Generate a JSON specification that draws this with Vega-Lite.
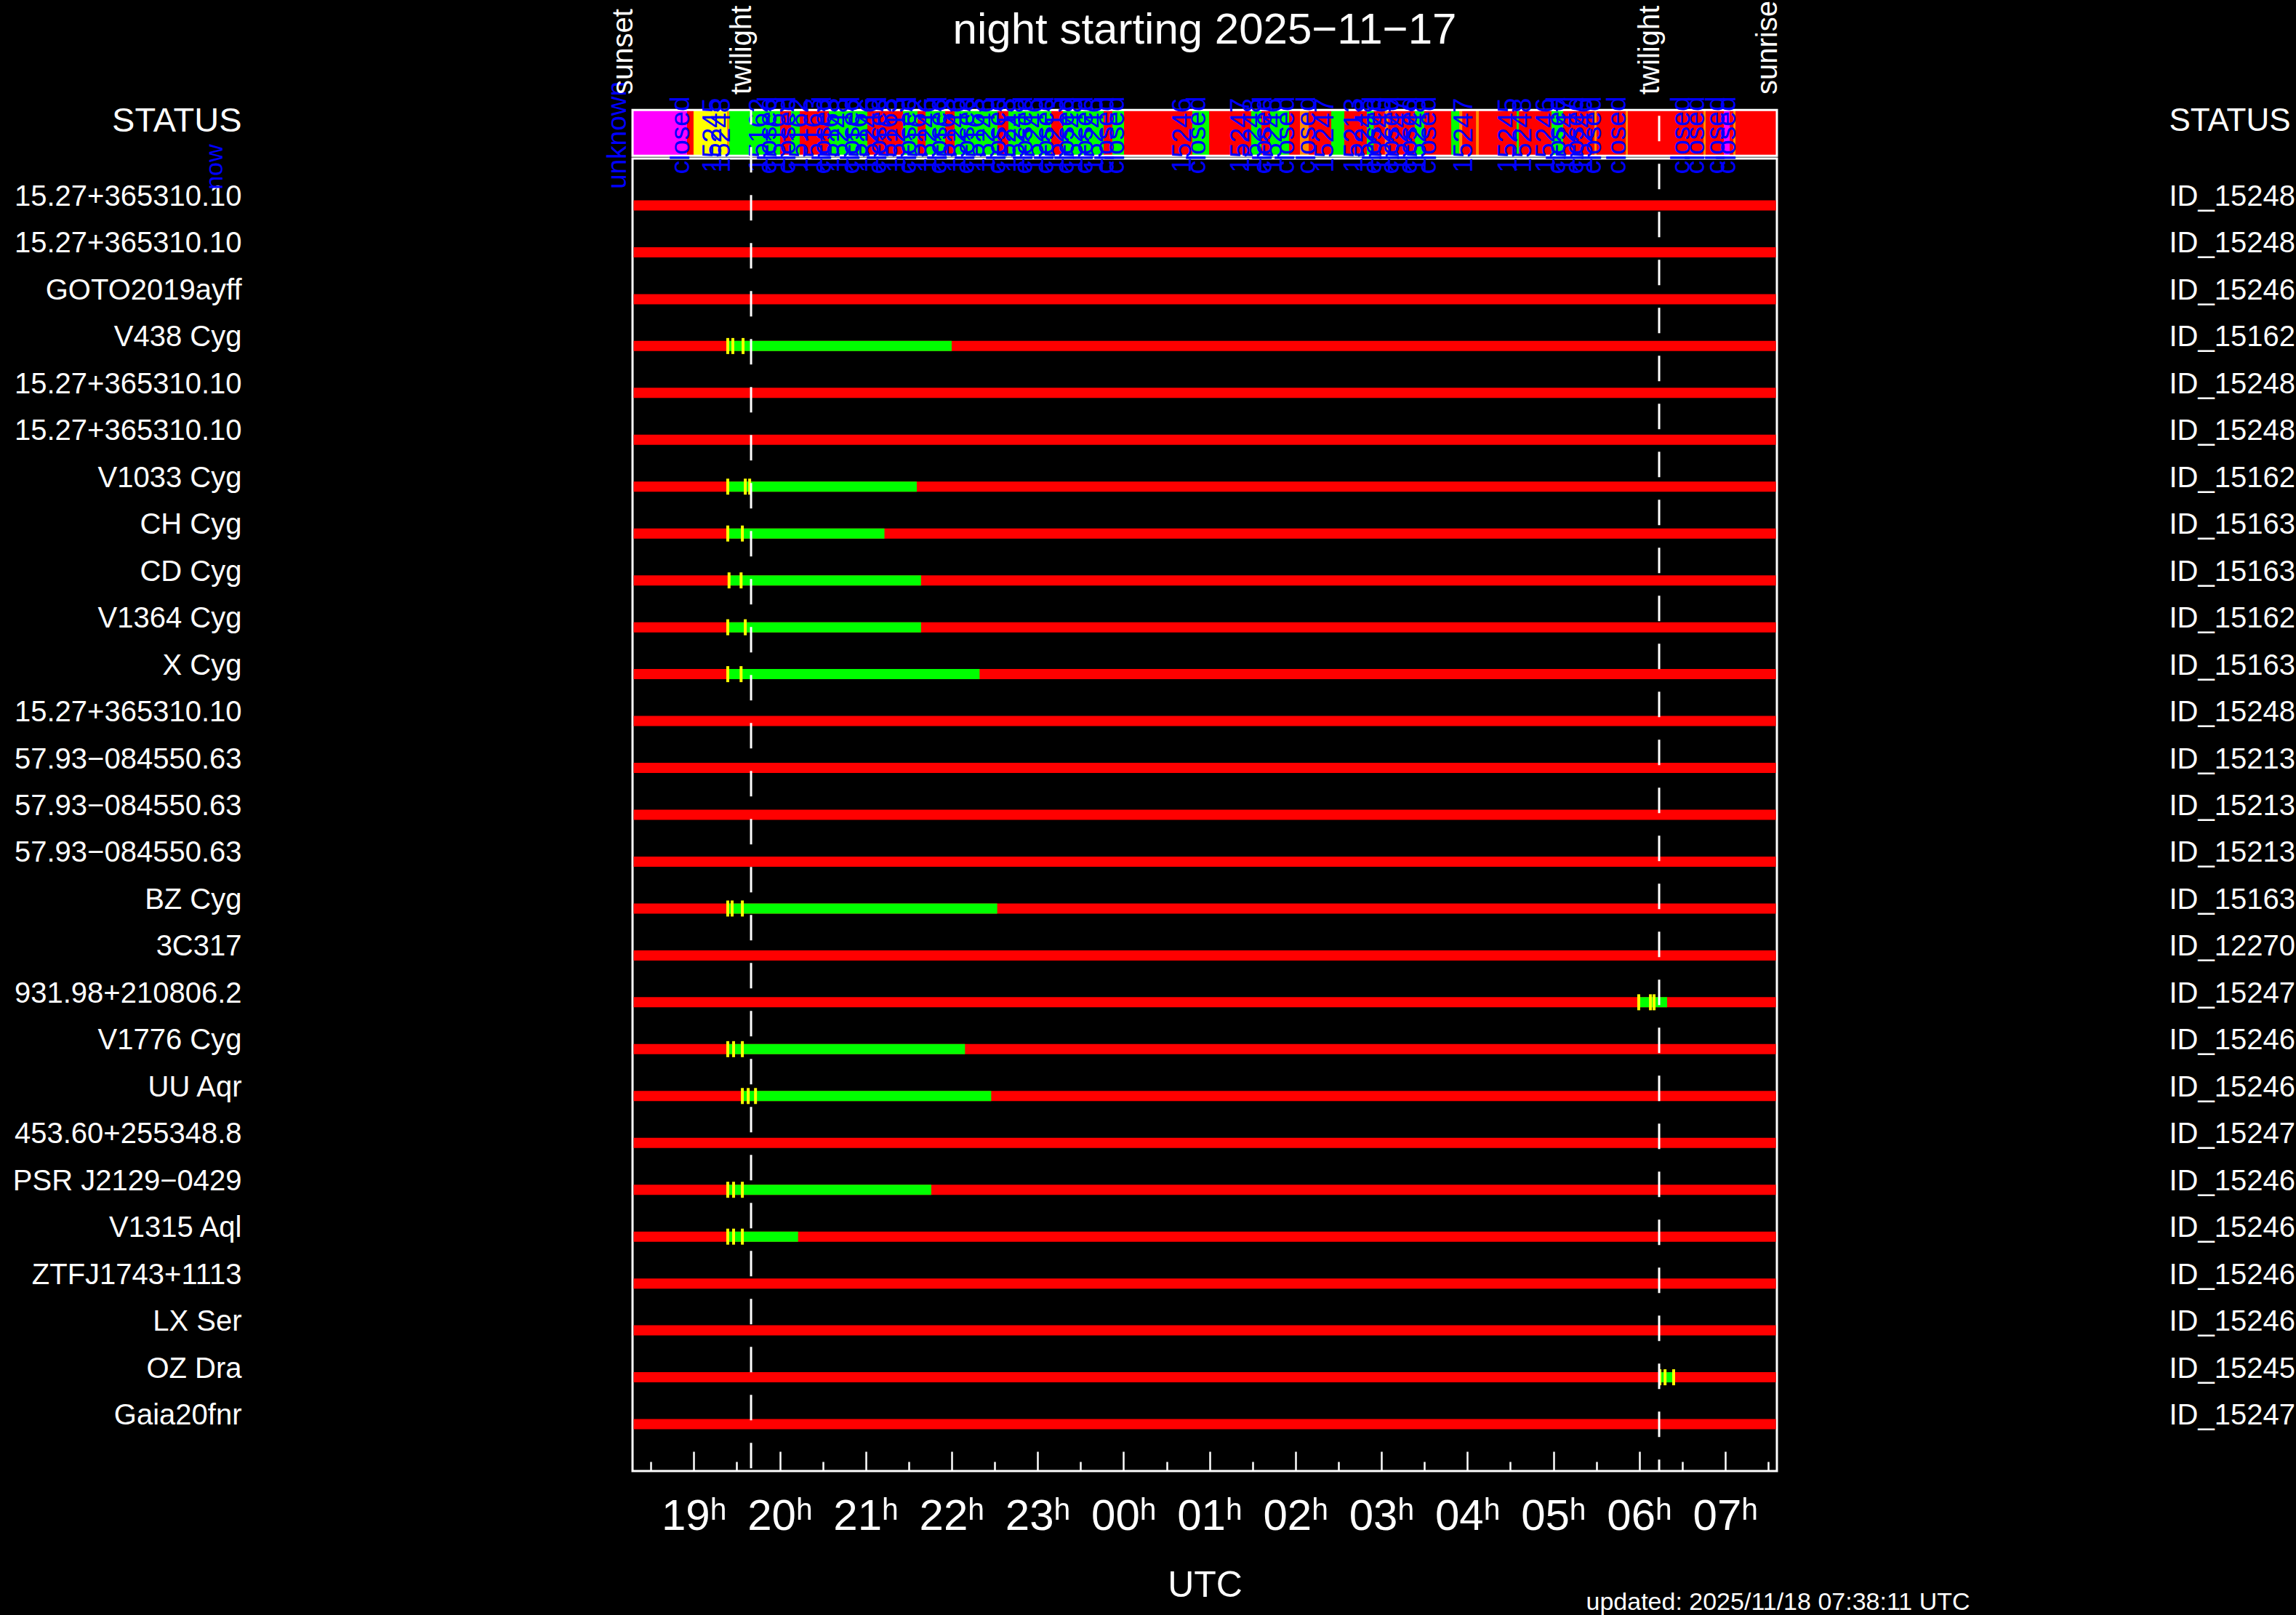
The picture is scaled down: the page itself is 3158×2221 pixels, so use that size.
{
  "$schema": "https://vega.github.io/schema/vega-lite/v6.json",
  "width": 1574,
  "height": 1805,
  "autosize": {"type": "none"},
  "padding": {"left": 870, "right": 714, "top": 218, "bottom": 198},
  "background": "black",
  "title": {"text": "night starting 2025−11−17", "color": "white", "font": "Liberation Sans", "fontSize": 60, "fontWeight": "normal", "anchor": "middle", "frame": "group", "offset": -72},
  "config": {
    "view": {"stroke": "white", "strokeWidth": 3},
    "axis": {"grid": false, "domainColor": "white", "tickColor": "white", "labelColor": "white", "titleColor": "white", "labelFont": "Liberation Sans", "titleFont": "Liberation Sans", "titleFontWeight": "normal"}
  },
  "datasets": {
    "targets": [
      {"pos": 1, "slot": "01|15.27+365310.10|ID_15248"},
      {"pos": 2, "slot": "02|15.27+365310.10|ID_15248"},
      {"pos": 3, "slot": "03|GOTO2019ayff|ID_15246"},
      {"pos": 4, "slot": "04|V438 Cyg|ID_15162"},
      {"pos": 5, "slot": "05|15.27+365310.10|ID_15248"},
      {"pos": 6, "slot": "06|15.27+365310.10|ID_15248"},
      {"pos": 7, "slot": "07|V1033 Cyg|ID_15162"},
      {"pos": 8, "slot": "08|CH Cyg|ID_15163"},
      {"pos": 9, "slot": "09|CD Cyg|ID_15163"},
      {"pos": 10, "slot": "10|V1364 Cyg|ID_15162"},
      {"pos": 11, "slot": "11|X Cyg|ID_15163"},
      {"pos": 12, "slot": "12|15.27+365310.10|ID_15248"},
      {"pos": 13, "slot": "13|57.93−084550.63|ID_15213"},
      {"pos": 14, "slot": "14|57.93−084550.63|ID_15213"},
      {"pos": 15, "slot": "15|57.93−084550.63|ID_15213"},
      {"pos": 16, "slot": "16|BZ Cyg|ID_15163"},
      {"pos": 17, "slot": "17|3C317|ID_12270"},
      {"pos": 18, "slot": "18|931.98+210806.2|ID_15247"},
      {"pos": 19, "slot": "19|V1776 Cyg|ID_15246"},
      {"pos": 20, "slot": "20|UU Aqr|ID_15246"},
      {"pos": 21, "slot": "21|453.60+255348.8|ID_15247"},
      {"pos": 22, "slot": "22|PSR J2129−0429|ID_15246"},
      {"pos": 23, "slot": "23|V1315 Aql|ID_15246"},
      {"pos": 24, "slot": "24|ZTFJ1743+1113|ID_15246"},
      {"pos": 25, "slot": "25|LX Ser|ID_15246"},
      {"pos": 26, "slot": "26|OZ Dra|ID_15245"},
      {"pos": 27, "slot": "27|Gaia20fnr|ID_15247"}
    ],
    "segments": [
      {"pos": 1, "from": 18.3, "to": 31.59, "state": "unobservable"},
      {"pos": 2, "from": 18.3, "to": 31.59, "state": "unobservable"},
      {"pos": 3, "from": 18.3, "to": 31.59, "state": "unobservable"},
      {"pos": 4, "from": 18.3, "to": 31.59, "state": "unobservable"},
      {"pos": 5, "from": 18.3, "to": 31.59, "state": "unobservable"},
      {"pos": 6, "from": 18.3, "to": 31.59, "state": "unobservable"},
      {"pos": 7, "from": 18.3, "to": 31.59, "state": "unobservable"},
      {"pos": 8, "from": 18.3, "to": 31.59, "state": "unobservable"},
      {"pos": 9, "from": 18.3, "to": 31.59, "state": "unobservable"},
      {"pos": 10, "from": 18.3, "to": 31.59, "state": "unobservable"},
      {"pos": 11, "from": 18.3, "to": 31.59, "state": "unobservable"},
      {"pos": 12, "from": 18.3, "to": 31.59, "state": "unobservable"},
      {"pos": 13, "from": 18.3, "to": 31.59, "state": "unobservable"},
      {"pos": 14, "from": 18.3, "to": 31.59, "state": "unobservable"},
      {"pos": 15, "from": 18.3, "to": 31.59, "state": "unobservable"},
      {"pos": 16, "from": 18.3, "to": 31.59, "state": "unobservable"},
      {"pos": 17, "from": 18.3, "to": 31.59, "state": "unobservable"},
      {"pos": 18, "from": 18.3, "to": 31.59, "state": "unobservable"},
      {"pos": 19, "from": 18.3, "to": 31.59, "state": "unobservable"},
      {"pos": 20, "from": 18.3, "to": 31.59, "state": "unobservable"},
      {"pos": 21, "from": 18.3, "to": 31.59, "state": "unobservable"},
      {"pos": 22, "from": 18.3, "to": 31.59, "state": "unobservable"},
      {"pos": 23, "from": 18.3, "to": 31.59, "state": "unobservable"},
      {"pos": 24, "from": 18.3, "to": 31.59, "state": "unobservable"},
      {"pos": 25, "from": 18.3, "to": 31.59, "state": "unobservable"},
      {"pos": 26, "from": 18.3, "to": 31.59, "state": "unobservable"},
      {"pos": 27, "from": 18.3, "to": 31.59, "state": "unobservable"},
      {"pos": 4, "from": 19.4, "to": 22.0, "state": "observable"},
      {"pos": 7, "from": 19.4, "to": 21.594, "state": "observable"},
      {"pos": 8, "from": 19.4, "to": 21.218, "state": "observable"},
      {"pos": 9, "from": 19.41, "to": 21.644, "state": "observable"},
      {"pos": 10, "from": 19.4, "to": 21.644, "state": "observable"},
      {"pos": 11, "from": 19.4, "to": 22.325, "state": "observable"},
      {"pos": 16, "from": 19.4, "to": 22.53, "state": "observable"},
      {"pos": 18, "from": 29.994, "to": 30.324, "state": "observable"},
      {"pos": 19, "from": 19.4, "to": 22.155, "state": "observable"},
      {"pos": 20, "from": 19.565, "to": 22.46, "state": "observable"},
      {"pos": 22, "from": 19.4, "to": 21.763, "state": "observable"},
      {"pos": 23, "from": 19.4, "to": 20.213, "state": "observable"},
      {"pos": 26, "from": 30.24, "to": 30.4, "state": "observable"}
    ],
    "ticks": [
      {"pos": 4, "t": 19.395}, {"pos": 4, "t": 19.454}, {"pos": 4, "t": 19.573},
      {"pos": 7, "t": 19.395}, {"pos": 7, "t": 19.599}, {"pos": 7, "t": 19.65},
      {"pos": 8, "t": 19.395}, {"pos": 8, "t": 19.565},
      {"pos": 9, "t": 19.41}, {"pos": 9, "t": 19.55},
      {"pos": 10, "t": 19.395}, {"pos": 10, "t": 19.599},
      {"pos": 11, "t": 19.395}, {"pos": 11, "t": 19.55},
      {"pos": 16, "t": 19.395}, {"pos": 16, "t": 19.446}, {"pos": 16, "t": 19.565},
      {"pos": 18, "t": 29.994}, {"pos": 18, "t": 30.13}, {"pos": 18, "t": 30.172},
      {"pos": 19, "t": 19.395}, {"pos": 19, "t": 19.463}, {"pos": 19, "t": 19.565},
      {"pos": 20, "t": 19.565}, {"pos": 20, "t": 19.633}, {"pos": 20, "t": 19.718},
      {"pos": 22, "t": 19.395}, {"pos": 22, "t": 19.463}, {"pos": 22, "t": 19.565},
      {"pos": 23, "t": 19.395}, {"pos": 23, "t": 19.463}, {"pos": 23, "t": 19.565},
      {"pos": 26, "t": 30.24}, {"pos": 26, "t": 30.3}, {"pos": 26, "t": 30.4}
    ],
    "status": [
      {"from": 18.287, "to": 31.601, "status": "closed"},
      {"from": 18.287, "to": 18.921, "status": "unknown"},
      {"from": 18.997, "to": 19.387, "status": "waiting"},
      {"from": 19.387, "to": 19.412, "status": "interrupted"},
      {"from": 19.412, "to": 20.004, "status": "open"},
      {"from": 20.131, "to": 20.232, "status": "open"},
      {"from": 20.571, "to": 21.019, "status": "open"},
      {"from": 21.434, "to": 21.603, "status": "open"},
      {"from": 21.696, "to": 21.924, "status": "open"},
      {"from": 22.034, "to": 22.533, "status": "open"},
      {"from": 22.66, "to": 23.159, "status": "open"},
      {"from": 23.295, "to": 23.768, "status": "open"},
      {"from": 23.87, "to": 24.005, "status": "open"},
      {"from": 24.8, "to": 24.995, "status": "open"},
      {"from": 25.485, "to": 25.604, "status": "open"},
      {"from": 25.705, "to": 25.925, "status": "open"},
      {"from": 26.052, "to": 26.154, "status": "interrupted"},
      {"from": 26.416, "to": 26.568, "status": "open"},
      {"from": 26.83, "to": 26.91, "status": "open"},
      {"from": 27.04, "to": 27.08, "status": "interrupted"},
      {"from": 27.388, "to": 27.498, "status": "open"},
      {"from": 27.812, "to": 27.905, "status": "open"},
      {"from": 27.905, "to": 27.94, "status": "interrupted"},
      {"from": 28.1, "to": 28.133, "status": "interrupted"},
      {"from": 28.573, "to": 28.598, "status": "open"},
      {"from": 28.979, "to": 29.114, "status": "open"},
      {"from": 29.478, "to": 29.503, "status": "interrupted"},
      {"from": 29.842, "to": 29.867, "status": "interrupted"},
      {"from": 30.747, "to": 30.772, "status": "interrupted"},
      {"from": 30.984, "to": 31.052, "status": "unknown"},
      {"from": 31.094, "to": 31.119, "status": "interrupted"}
    ],
    "notes": [
      {"t": 18.117, "label": "unknown"}, {"t": 18.85, "label": "closed"}, {"t": 19.225, "label": "15245"}, {"t": 19.327, "label": "15248"},
      {"t": 19.77, "label": "15162"}, {"t": 19.87, "label": "closed"}, {"t": 19.97, "label": "15163"}, {"t": 20.09, "label": "closed"},
      {"t": 20.23, "label": "15162"}, {"t": 20.4, "label": "15163"}, {"t": 20.5, "label": "closed"}, {"t": 20.6, "label": "15163"},
      {"t": 20.71, "label": "15248"}, {"t": 20.83, "label": "closed"}, {"t": 20.93, "label": "15162"}, {"t": 21.05, "label": "15246"},
      {"t": 21.15, "label": "closed"}, {"t": 21.27, "label": "15163"}, {"t": 21.37, "label": "15213"}, {"t": 21.49, "label": "closed"},
      {"t": 21.61, "label": "15162"}, {"t": 21.73, "label": "15246"}, {"t": 21.85, "label": "closed"}, {"t": 21.95, "label": "15163"},
      {"t": 22.07, "label": "15246"}, {"t": 22.17, "label": "closed"}, {"t": 22.29, "label": "15163"}, {"t": 22.41, "label": "15246"},
      {"t": 22.53, "label": "closed"}, {"t": 22.65, "label": "15213"}, {"t": 22.75, "label": "15248"}, {"t": 22.85, "label": "closed"},
      {"t": 22.97, "label": "15246"}, {"t": 23.09, "label": "closed"}, {"t": 23.21, "label": "15213"}, {"t": 23.33, "label": "closed"},
      {"t": 23.43, "label": "15248"}, {"t": 23.55, "label": "closed"}, {"t": 23.67, "label": "15246"}, {"t": 23.79, "label": "closed"},
      {"t": 23.91, "label": "closed"}, {"t": 24.69, "label": "15246"}, {"t": 24.86, "label": "closed"}, {"t": 25.37, "label": "15247"},
      {"t": 25.51, "label": "15248"}, {"t": 25.63, "label": "closed"}, {"t": 25.75, "label": "15246"}, {"t": 25.89, "label": "closed"},
      {"t": 26.14, "label": "closed"}, {"t": 26.35, "label": "15247"}, {"t": 26.69, "label": "15213"}, {"t": 26.81, "label": "15248"},
      {"t": 26.91, "label": "closed"}, {"t": 27.01, "label": "15246"}, {"t": 27.11, "label": "closed"}, {"t": 27.21, "label": "15247"},
      {"t": 27.32, "label": "closed"}, {"t": 27.42, "label": "15248"}, {"t": 27.54, "label": "closed"}, {"t": 27.96, "label": "15247"},
      {"t": 28.48, "label": "15245"}, {"t": 28.65, "label": "15248"}, {"t": 28.92, "label": "15246"}, {"t": 29.05, "label": "closed"},
      {"t": 29.16, "label": "15247"}, {"t": 29.26, "label": "closed"}, {"t": 29.36, "label": "15246"}, {"t": 29.46, "label": "closed"},
      {"t": 29.75, "label": "closed"}, {"t": 30.49, "label": "closed"}, {"t": 30.66, "label": "closed"}, {"t": 30.9, "label": "closed"},
      {"t": 31.03, "label": "closed"}
    ],
    "events": [
      {"t": 18.287, "event": "sunset"},
      {"t": 19.666, "event": "twilight"},
      {"t": 30.231, "event": "twilight"},
      {"t": 31.601, "event": "sunrise"}
    ],
    "night": [
      {"sunset": 18.287, "eveTwilight": 19.666, "mornTwilight": 30.231, "sunrise": 31.601}
    ],
    "now": [{"t": 13.43, "label": "now"}]
  },
  "layer": [
    {
      "layer": [
        {
          "data": {"name": "status"},
          "mark": {"type": "rect"},
          "encoding": {
            "x": {"field": "from", "type": "quantitative", "scale": {"domain": [18.287, 31.601], "nice": false, "zero": false},
              "axis": {"orient": "top", "offset": 67, "values": [19, 20, 21, 22, 23, 24, 25, 26, 27, 28, 29, 30, 31], "tickSize": -28, "tickWidth": 2.5, "labels": false, "domain": false, "title": null}},
            "x2": {"field": "to"},
            "y": {"datum": -0.06, "type": "quantitative", "scale": {"domain": [0, 28], "reverse": true, "nice": false, "zero": false}, "axis": null},
            "y2": {"datum": -1.035},
            "color": {"field": "status", "type": "nominal", "legend": null,
              "scale": {"domain": ["unknown", "closed", "waiting", "open", "interrupted", "unobservable", "observable"],
                        "range": ["#ff00ff", "#ff0000", "#ffff00", "#00ff00", "#ff8c00", "#ff0000", "#00ff00"]}}
          }
        },
        {
          "data": {"name": "night"},
          "mark": {"type": "rect", "fillOpacity": 0, "stroke": "white", "strokeWidth": 3},
          "encoding": {
            "x": {"field": "sunset", "type": "quantitative", "scale": {"domain": [18.287, 31.601], "nice": false, "zero": false},
              "axis": {"orient": "top", "offset": 67, "values": [18.5, 19.5, 20.5, 21.5, 22.5, 23.5, 24.5, 25.5, 26.5, 27.5, 28.5, 29.5, 30.5, 31.5], "tickSize": -12, "tickWidth": 2.5, "labels": false, "domain": false, "title": null}},
            "x2": {"field": "sunrise"},
            "y": {"datum": -0.06, "type": "quantitative"},
            "y2": {"datum": -1.035}
          }
        },
        {
          "data": {"name": "notes"},
          "mark": {"type": "text", "angle": 270, "align": "center", "baseline": "middle", "color": "#0000ff", "font": "Liberation Sans", "fontSize": 37},
          "encoding": {
            "x": {"field": "t", "type": "quantitative", "scale": {"domain": [18.287, 31.601], "nice": false, "zero": false}, "axis": null},
            "y": {"datum": -0.496, "type": "quantitative"},
            "text": {"field": "label"}
          }
        },
        {
          "data": {"name": "now"},
          "mark": {"type": "text", "angle": 270, "align": "center", "baseline": "middle", "color": "#0000ff", "font": "Liberation Sans", "fontSize": 34},
          "encoding": {
            "x": {"field": "t", "type": "quantitative", "scale": {"domain": [18.287, 31.601], "nice": false, "zero": false}, "axis": null},
            "y": {"datum": 0.18, "type": "quantitative"},
            "text": {"field": "label"}
          }
        },
        {
          "data": {"name": "events"},
          "mark": {"type": "text", "angle": 270, "align": "left", "baseline": "alphabetic", "color": "white", "font": "Liberation Sans", "fontSize": 40},
          "encoding": {
            "x": {"field": "t", "type": "quantitative", "scale": {"domain": [18.287, 31.601], "nice": false, "zero": false}, "axis": null},
            "y": {"datum": -1.365, "type": "quantitative"},
            "text": {"field": "event"}
          }
        },
        {
          "data": {"name": "segments"},
          "mark": {"type": "rule", "strokeWidth": 14, "strokeCap": "butt"},
          "encoding": {
            "x": {"field": "from", "type": "quantitative", "scale": {"domain": [18.287, 31.601], "nice": false, "zero": false},
              "axis": {"orient": "bottom", "values": [19, 20, 21, 22, 23, 24, 25, 26, 27, 28, 29, 30, 31], "tickSize": -27, "tickWidth": 2.5, "domain": false,
                "labelExpr": "(datum.value % 24 < 10 ? '0' : '') + (datum.value % 24) + 'ʰ'", "labelFontSize": 60, "labelPadding": 60, "labelFlush": false, "labelOverlap": false,
                "title": "UTC", "titleFontSize": 50, "titlePadding": 40}},
            "x2": {"field": "to"},
            "y": {"field": "pos", "type": "quantitative"},
            "color": {"field": "state", "type": "nominal", "legend": null}
          }
        },
        {
          "data": {"name": "ticks"},
          "mark": {"type": "tick", "orient": "vertical", "size": 22, "thickness": 4, "color": "#ffff00", "opacity": 1},
          "encoding": {
            "x": {"field": "t", "type": "quantitative", "scale": {"domain": [18.287, 31.601], "nice": false, "zero": false},
              "axis": {"orient": "bottom", "values": [18.5, 19.5, 20.5, 21.5, 22.5, 23.5, 24.5, 25.5, 26.5, 27.5, 28.5, 29.5, 30.5, 31.5], "tickSize": -13, "tickWidth": 2.5, "labels": false, "domain": false,
                "title": "updated: 2025/11/18 07:38:11 UTC", "titleX": 1311, "titleY": 190, "titleAlign": "left", "titleBaseline": "alphabetic", "titleFontSize": 34}},
            "y": {"field": "pos", "type": "quantitative"}
          }
        },
        {
          "data": {"name": "night"},
          "mark": {"type": "rule", "color": "white", "strokeWidth": 3, "strokeDash": [35, 31], "strokeDashOffset": 15},
          "encoding": {
            "x": {"field": "eveTwilight", "type": "quantitative", "scale": {"domain": [18.287, 31.601], "nice": false, "zero": false}, "axis": null},
            "y": {"datum": -1.035, "type": "quantitative"},
            "y2": {"datum": 28}
          }
        },
        {
          "data": {"name": "night"},
          "mark": {"type": "rule", "color": "white", "strokeWidth": 3, "strokeDash": [35, 31], "strokeDashOffset": 58},
          "encoding": {
            "x": {"field": "mornTwilight", "type": "quantitative", "scale": {"domain": [18.287, 31.601], "nice": false, "zero": false}, "axis": null},
            "y": {"datum": -1.035, "type": "quantitative"},
            "y2": {"datum": 28}
          }
        }
      ],
      "resolve": {"axis": {"x": "independent"}}
    },
    {
      "data": {"name": "targets"},
      "mark": {"type": "point", "opacity": 0},
      "encoding": {
        "y": {"field": "slot", "type": "nominal", "scale": {"type": "point", "padding": 1},
          "axis": {"orient": "left", "labelExpr": "split(datum.value, '|')[1]", "ticks": false, "domain": false, "labelPadding": 538, "labelLimit": 0,
            "labelFontSize": 40, "labelAlign": "right", "labelBaseline": "middle", "labelOffset": -12, "labelOverlap": false, "labelBound": false,
            "title": "STATUS", "titleAngle": 0, "titleX": -538, "titleY": -52, "titleAlign": "right", "titleBaseline": "middle", "titleFontSize": 47}}
      }
    },
    {
      "data": {"name": "targets"},
      "mark": {"type": "point", "opacity": 0},
      "encoding": {
        "y": {"field": "slot", "type": "nominal", "scale": {"type": "point", "padding": 1},
          "axis": {"orient": "right", "labelExpr": "split(datum.value, '|')[2]", "ticks": false, "domain": false, "labelPadding": 539, "labelLimit": 0,
            "labelFontSize": 40, "labelAlign": "left", "labelBaseline": "middle", "labelOffset": -12, "labelOverlap": false, "labelBound": false,
            "title": "STATUS", "titleAngle": 0, "titleX": 539, "titleY": -52, "titleAlign": "left", "titleBaseline": "middle", "titleFontSize": 44}}
      }
    }
  ],
  "resolve": {"scale": {"y": "independent"}, "axis": {"y": "independent", "x": "independent"}}
}
